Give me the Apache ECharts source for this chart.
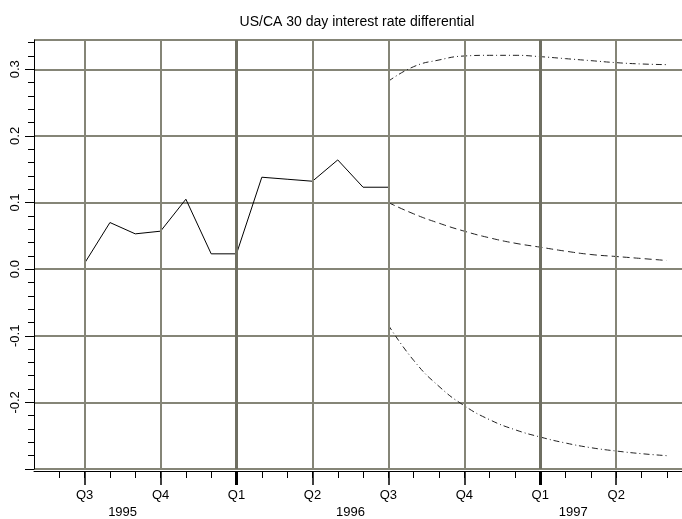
<!DOCTYPE html>
<html><head><meta charset="utf-8">
<script src="https://cdn.jsdelivr.net/npm/echarts@6/dist/echarts.min.js"></script>
<style>html,body{margin:0;padding:0;background:#fff}#c{width:682px;height:519px}</style>
</head><body><div id="c"></div>
<script>
const chartTitle = 'US/CA 30 day interest rate differential';
// x values are months counted from Jan 1995 = 0
const actualMonths = [6,7,8,9,10,11,12,13,14,15,16,17,18];
const actualValues = [0.009,0.070,0.053,0.057,0.105,0.023,0.023,0.138,0.135,0.132,0.164,0.123,0.123];
const forecastMonths = [18,19,20,21,22,23,24,25,26,27,28,29];
const forecastCentral = [0.100,0.083,0.069,0.057,0.047,0.039,0.033,0.027,0.022,0.019,0.016,0.013];
const forecastUpper = [0.282,0.304,0.314,0.320,0.321,0.321,0.319,0.316,0.313,0.310,0.308,0.307];
const forecastLower = [-0.084,-0.137,-0.176,-0.205,-0.226,-0.241,-0.252,-0.261,-0.268,-0.273,-0.277,-0.280];
const monthTicks = [5,6,7,8,9,10,11,12,13,14,15,16,17,18,19,20,21,22,23,24,25,26,27,28,29];
const quarterTicks = [6,9,12,15,18,21,24,27];
const yearStartTicks = [12,24];
const yearLabelPos = [7.5,16.5,25.3];
const yearLabels = ['1995','1996','1997'];
const yMajorTicks = [-0.3,-0.2,-0.1,0,0.1,0.2,0.3];
const yLabelTicks = [-0.2,-0.1,0,0.1,0.2,0.3];
const yMinorTicks = [-0.28,-0.26,-0.24,-0.22,-0.18,-0.16,-0.14,-0.12,-0.08,-0.06,-0.04,-0.02,0.02,0.04,0.06,0.08,0.12,0.14,0.16,0.18,0.22,0.24,0.26,0.28,0.32,0.34];

const X_MIN = 4, X_MAX = 29.6, Y_MIN = -0.3, Y_MAX = 0.344;
const FONT = 'Liberation Sans, Arial, sans-serif';
const gridGray = '#858577';

function pairs(xs, ys){ return xs.map((x,i)=>[x, ys[i]]); }
function quarterName(v){ return 'Q' + (Math.round(((v % 12) + 12) % 12) / 3 + 1); }

const baseX = {type:'value', min:X_MIN, max:X_MAX, position:'bottom', offset:2, splitLine:{show:false}, axisLine:{show:false, onZero:false}, axisTick:{show:false}, axisLabel:{show:false}};
const baseY = {type:'value', min:Y_MIN, max:Y_MAX, interval:0.1, position:'left', splitLine:{show:false}, axisLine:{show:false, onZero:false}, axisTick:{show:false}, axisLabel:{show:false}};

const chart = echarts.init(document.getElementById('c'), null, {renderer:'canvas'});
chart.setOption({
  animation:false,
  backgroundColor:'#fff',
  title:{text:chartTitle, left:352, top:10, textAlign:'center', textStyle:{fontFamily:FONT, fontSize:14, fontWeight:'normal', color:'#000'}},
  grid:{left:34, right:0, top:40, bottom:49, containLabel:false},
  xAxis:[
    Object.assign({}, baseX, {axisLine:{show:true, onZero:false, lineStyle:{color:'#000', width:1}}, axisTick:{show:true, customValues:monthTicks, length:7, lineStyle:{color:'#000', width:1}}}),
    Object.assign({}, baseX, {axisTick:{show:true, customValues:quarterTicks, length:14, lineStyle:{color:'#000', width:1.5}},
      axisLabel:{show:true, customValues:quarterTicks, formatter:quarterName, margin:18, fontFamily:FONT, fontSize:13, color:'#000'}}),
    Object.assign({}, baseX, {axisTick:{show:true, customValues:yearStartTicks, length:14, lineStyle:{color:'#000', width:3}}}),
    Object.assign({}, baseX, {axisLabel:{show:true, customValues:yearLabelPos, formatter:(v)=>{const i=yearLabelPos.findIndex(p=>Math.abs(p-v)<1e-6); return i>=0?yearLabels[i]:'';}, margin:35, fontFamily:FONT, fontSize:13, color:'#000'}})
  ],
  yAxis:[
    Object.assign({}, baseY, {axisLine:{show:true, onZero:false, lineStyle:{color:'#000', width:1}}, axisTick:{show:true, customValues:yMajorTicks, length:9, lineStyle:{color:'#000', width:1}},
      axisLabel:{show:true, customValues:yLabelTicks, rotate:90, formatter:(v)=>v.toFixed(1), margin:12, fontFamily:FONT, fontSize:13, color:'#000'}}),
    Object.assign({}, baseY, {splitLine:{show:true, lineStyle:{color:gridGray, width:2}}}),
    Object.assign({}, baseY, {axisTick:{show:true, customValues:yMinorTicks, length:6, lineStyle:{color:'#000', width:1}}})
  ],
  series:[
    {type:'line', z:1, data:[], silent:true,
      markLine:{silent:true, symbol:['none','none'], label:{show:false}, animation:false,
        data: quarterTicks.map(v=>({xAxis:v, lineStyle:{color: yearStartTicks.includes(v)?'#6f6f62':gridGray, width: yearStartTicks.includes(v)?3:2, type:'solid'}}))}},
    {type:'line', data:pairs(actualMonths, actualValues), symbol:'none', lineStyle:{color:'#000', width:1}},
    {type:'line', data:pairs(forecastMonths, forecastCentral), symbol:'none', smooth:true, lineStyle:{color:'#222', width:1, type:[7,4]}},
    {type:'line', data:pairs(forecastMonths, forecastUpper), symbol:'none', smooth:true, lineStyle:{color:'#222', width:1, type:[6,3,1,3]}},
    {type:'line', data:pairs(forecastMonths, forecastLower), symbol:'none', smooth:true, lineStyle:{color:'#222', width:1, type:[6,3,1,3]}}
  ]
});
</script></body></html>
